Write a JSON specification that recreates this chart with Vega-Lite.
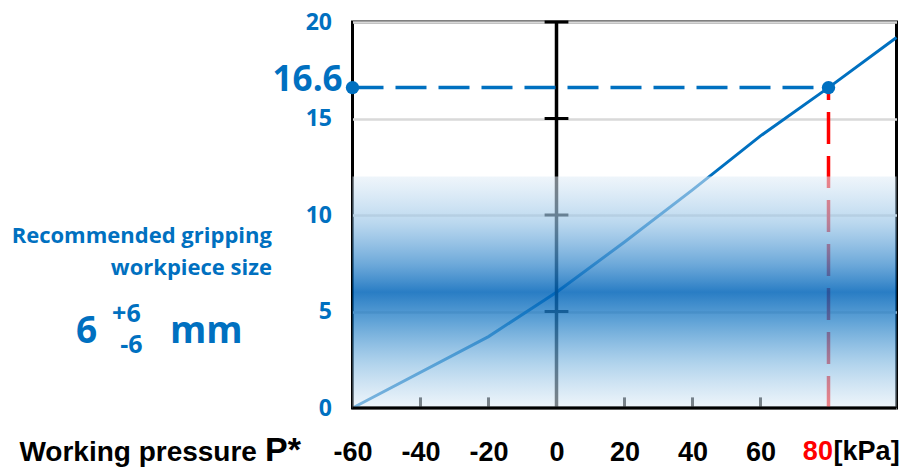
{
  "$schema": "https://vega.github.io/schema/vega-lite/v6.json",
  "width": 544,
  "height": 386,
  "autosize": {"type": "none"},
  "padding": {"left": 352.5, "top": 22, "right": 9.5, "bottom": 60},
  "background": "white",
  "config": {"view": {"stroke": "black", "strokeWidth": 3}},
  "encoding": {
    "x": {
      "field": "x", "type": "quantitative",
      "scale": {"domain": [-60, 100], "nice": false, "zero": false},
      "axis": {
        "title": null, "domain": false, "ticks": false, "grid": false,
        "values": [-60, -40, -20, 0, 20, 40, 60],
        "labelExpr": "'' + datum.value",
        "labelFont": "Liberation Sans", "labelFontWeight": "bold", "labelFontSize": 27,
        "labelColor": "black", "labelPadding": 31, "labelFlush": false, "labelOverlap": false
      }
    },
    "y": {
      "field": "y", "type": "quantitative",
      "scale": {"domain": [0, 20], "nice": false, "zero": false},
      "axis": {
        "title": null, "domain": false, "ticks": false, "grid": true,
        "gridColor": "#d9d9d9", "gridWidth": 2.5,
        "values": [0, 5, 10, 15, 20],
        "labelFont": "Open Sans", "labelFontWeight": "bold", "labelFontSize": 23,
        "labelColor": "#0070C0", "labelPadding": 21, "labelFlush": false, "labelOverlap": false
      }
    }
  },
  "layer": [
    {
      "data": {"values": [
        {"x": -60, "y": 0}, {"x": -20, "y": 3.7}, {"x": 0, "y": 6.0}, {"x": 20, "y": 8.6},
        {"x": 40, "y": 11.3}, {"x": 60, "y": 14.1}, {"x": 80, "y": 16.6}, {"x": 100, "y": 19.2}
      ]},
      "mark": {"type": "line", "color": "#0070C0", "strokeWidth": 3},
      "encoding": {}
    },
    {
      "data": {"values": [{"x": 0, "y": 0, "y2": 20}]},
      "mark": {"type": "rule", "color": "black", "strokeWidth": 3.5},
      "encoding": {"y2": {"field": "y2"}}
    },
    {
      "data": {"values": [
        {"x": -3.5, "x2": 3.5, "y": 5}, {"x": -3.5, "x2": 3.5, "y": 10},
        {"x": -3.5, "x2": 3.5, "y": 15}, {"x": -3.5, "x2": 3.5, "y": 20}
      ]},
      "mark": {"type": "rule", "color": "black", "strokeWidth": 3},
      "encoding": {"x2": {"field": "x2"}}
    },
    {
      "data": {"values": [
        {"x": -60, "y": 0, "y2": 0.55}, {"x": -40, "y": 0, "y2": 0.55}, {"x": -20, "y": 0, "y2": 0.55},
        {"x": 20, "y": 0, "y2": 0.55}, {"x": 40, "y": 0, "y2": 0.55}, {"x": 60, "y": 0, "y2": 0.55},
        {"x": 80, "y": 0, "y2": 0.55}, {"x": 100, "y": 0, "y2": 0.55}
      ]},
      "mark": {"type": "rule", "color": "black", "strokeWidth": 3},
      "encoding": {"y2": {"field": "y2"}}
    },
    {
      "data": {"values": [{"x": 80, "y": 0, "y2": 16.6}]},
      "mark": {"type": "rule", "color": "#ff0000", "strokeWidth": 3.5, "strokeDash": [32, 12]},
      "encoding": {"y2": {"field": "y2"}}
    },
    {
      "data": {"values": [{"x": -60, "x2": 100, "y": 0, "y2": 12}]},
      "mark": {
        "type": "rect",
        "fill": {
          "gradient": "linear", "x1": 0, "y1": 0, "x2": 0, "y2": 1,
          "stops": [
            {"offset": 0, "color": "rgba(225,237,247,0.55)"},
            {"offset": 0.2, "color": "rgba(150,195,230,0.65)"},
            {"offset": 0.38, "color": "rgba(60,140,205,0.75)"},
            {"offset": 0.5, "color": "rgba(0,100,185,0.84)"},
            {"offset": 0.62, "color": "rgba(40,130,200,0.75)"},
            {"offset": 0.8, "color": "rgba(130,185,225,0.65)"},
            {"offset": 1, "color": "rgba(225,237,247,0.55)"}
          ]
        },
        "stroke": null
      },
      "encoding": {"x2": {"field": "x2"}, "y2": {"field": "y2"}}
    },
    {
      "data": {"values": [{"x": -60, "x2": 100, "y": 0}]},
      "mark": {"type": "rule", "color": "black", "strokeWidth": 3},
      "encoding": {"x2": {"field": "x2"}}
    },
    {
      "data": {"values": [{"x": -60, "x2": 80, "y": 16.6}]},
      "mark": {"type": "rule", "color": "#0070C0", "strokeWidth": 3.5, "strokeDash": [31, 12]},
      "encoding": {"x2": {"field": "x2"}}
    },
    {
      "data": {"values": [{"x": -60, "y": 16.6}, {"x": 80, "y": 16.6}]},
      "mark": {"type": "circle", "color": "#0070C0", "opacity": 1, "size": 180},
      "encoding": {}
    },
    {
      "data": {"values": [{"x": -62.9, "y": 16.4, "label": "16.6"}]},
      "mark": {"type": "text", "font": "Open Sans", "fontWeight": "bold", "fontSize": 35, "color": "#0070C0", "align": "right", "baseline": "alphabetic"},
      "encoding": {"text": {"field": "label"}}
    },
    {
      "data": {"values": [
        {"x": -83.7, "y": 8.55, "label": "Recommended gripping"},
        {"x": -83.7, "y": 6.89, "label": "workpiece size"}
      ]},
      "mark": {"type": "text", "font": "Open Sans", "fontWeight": "bold", "fontSize": 22, "color": "#0070C0", "align": "right", "baseline": "alphabetic"},
      "encoding": {"text": {"field": "label"}}
    },
    {
      "data": {"values": [
        {"x": -141.3, "y": 3.37, "label": "6"},
        {"x": -113.7, "y": 3.37, "label": "mm"}
      ]},
      "mark": {"type": "text", "font": "Open Sans", "fontWeight": "bold", "fontSize": 37, "color": "#0070C0", "align": "left", "baseline": "alphabetic"},
      "encoding": {"text": {"field": "label"}}
    },
    {
      "data": {"values": [
        {"x": -130.7, "y": 4.46, "label": "+6"},
        {"x": -128.3, "y": 2.85, "label": "-6"}
      ]},
      "mark": {"type": "text", "font": "Open Sans", "fontWeight": "bold", "fontSize": 25, "color": "#0070C0", "align": "left", "baseline": "alphabetic"},
      "encoding": {"text": {"field": "label"}}
    },
    {
      "data": {"values": [{"x": -88.1, "y": -2.75, "label": "Working pressure"}]},
      "mark": {"type": "text", "font": "Liberation Sans", "fontWeight": "bold", "fontSize": 28, "color": "black", "align": "right", "baseline": "alphabetic"},
      "encoding": {"text": {"field": "label"}}
    },
    {
      "data": {"values": [{"x": -85.7, "y": -2.75, "label": "P*"}]},
      "mark": {"type": "text", "font": "Liberation Sans", "fontWeight": "bold", "fontSize": 34, "color": "black", "align": "left", "baseline": "alphabetic"},
      "encoding": {"text": {"field": "label"}}
    },
    {
      "data": {"values": [{"x": 81.3, "y": -2.69, "label": "80"}]},
      "mark": {"type": "text", "font": "Liberation Sans", "fontWeight": "bold", "fontSize": 27, "color": "#ff0000", "align": "right", "baseline": "alphabetic"},
      "encoding": {"text": {"field": "label"}}
    },
    {
      "data": {"values": [{"x": 81.5, "y": -2.69, "label": "[kPa]"}]},
      "mark": {"type": "text", "font": "Liberation Sans", "fontWeight": "bold", "fontSize": 27, "color": "black", "align": "left", "baseline": "alphabetic"},
      "encoding": {"text": {"field": "label"}}
    }
  ]
}
